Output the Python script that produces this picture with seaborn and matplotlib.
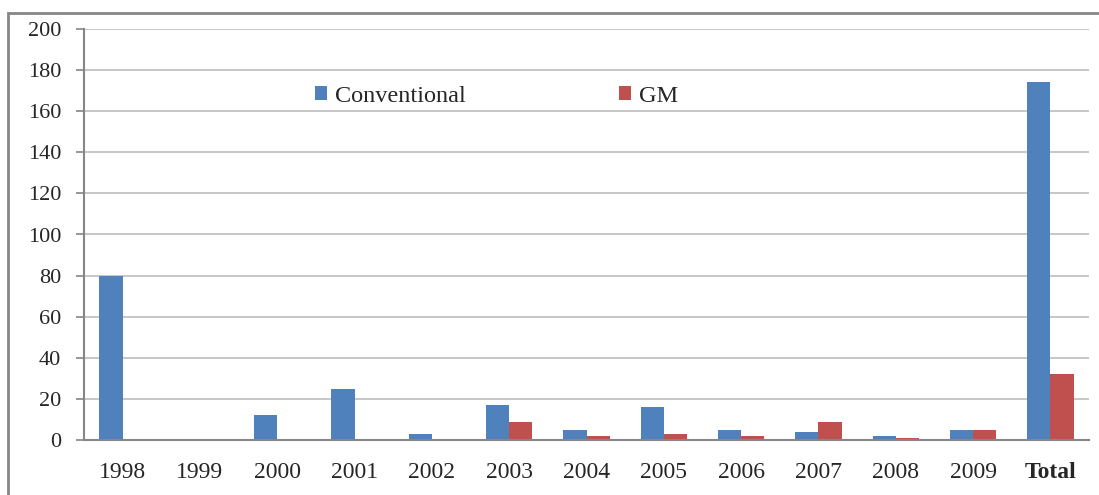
import matplotlib
matplotlib.use("Agg")
import matplotlib.pyplot as plt
from matplotlib.patches import Rectangle
from matplotlib.ticker import MultipleLocator, FixedLocator
import seaborn as sns
import pandas as pd

years = ["1998", "1999", "2000", "2001", "2002", "2003", "2004",
         "2005", "2006", "2007", "2008", "2009", "Total"]
conventional = [80, 0, 12, 25, 3, 17, 5, 16, 5, 4, 2, 5, 174]
gm = [0, 0, 0, 0, 0, 9, 2, 3, 2, 9, 1, 5, 32]
series = ["Conventional", "GM"]
colors = ["#4F81BD", "#C0504D"]

df = pd.DataFrame({
    "year": years * 2,
    "value": conventional + gm,
    "type": [series[0]] * len(years) + [series[1]] * len(years),
})

sns.set_style("white")
plt.rcParams["font.family"] = ["Liberation Serif", "DejaVu Serif"]

fig = plt.figure(figsize=(10.99, 4.95), dpi=100)
ax = fig.add_axes([84 / 1099, 55 / 495, (1089 - 84) / 1099, (440 - 29) / 495])

sns.barplot(data=df, x="year", y="value", hue="type", order=years,
            hue_order=series, palette=colors, width=0.6, gap=0,
            linewidth=0, saturation=1, ax=ax)

ax.set_xlabel("")
ax.set_ylabel("")
ax.set_ylim(0, 200)
ax.set_xlim(-0.5, len(years) - 0.5)
ax.yaxis.set_major_locator(MultipleLocator(20))

grid_c = "#BEBEBE"
axis_c = "#868686"
ax.yaxis.grid(True, color=grid_c, linewidth=1.2)
ax.set_axisbelow(True)
for side in ["top", "right"]:
    ax.spines[side].set_visible(False)
for side in ["left", "bottom"]:
    ax.spines[side].set_color(axis_c)
    ax.spines[side].set_linewidth(1.5)

# tick marks sit between categories; labels are centred under each group
ax.xaxis.set_minor_locator(FixedLocator([i - 0.5 for i in range(len(years) + 1)]))
ax.tick_params(axis="x", which="minor", direction="out", length=5.5,
               width=1.2, color=axis_c)
ax.tick_params(axis="x", which="major", length=0, pad=16, labelsize=17)
ax.tick_params(axis="y", which="major", direction="out", length=5.8,
               width=1.2, color=axis_c, pad=10.5, labelsize=16)
ax.tick_params(left=True, bottom=True)
for lbl in ax.get_xticklabels():
    if lbl.get_text() == "Total":
        lbl.set_fontweight("bold")

leg = ax.legend(loc="center left", bbox_to_anchor=(315 / 1099, 1 - 96 / 495),
                bbox_transform=fig.transFigure, ncol=2, frameon=False,
                fontsize=17.5, handlelength=0.5, handleheight=0.5,
                handletextpad=0.32, columnspacing=6.3, borderpad=0,
                borderaxespad=0)

# outer chart border
fig.patches.append(Rectangle((8 / 1099, -0.1), 1.2, 1.1 - 13 / 495,
                             transform=fig.transFigure, fill=False,
                             edgecolor=axis_c, linewidth=2))

fig.savefig("out.png", dpi=100)
